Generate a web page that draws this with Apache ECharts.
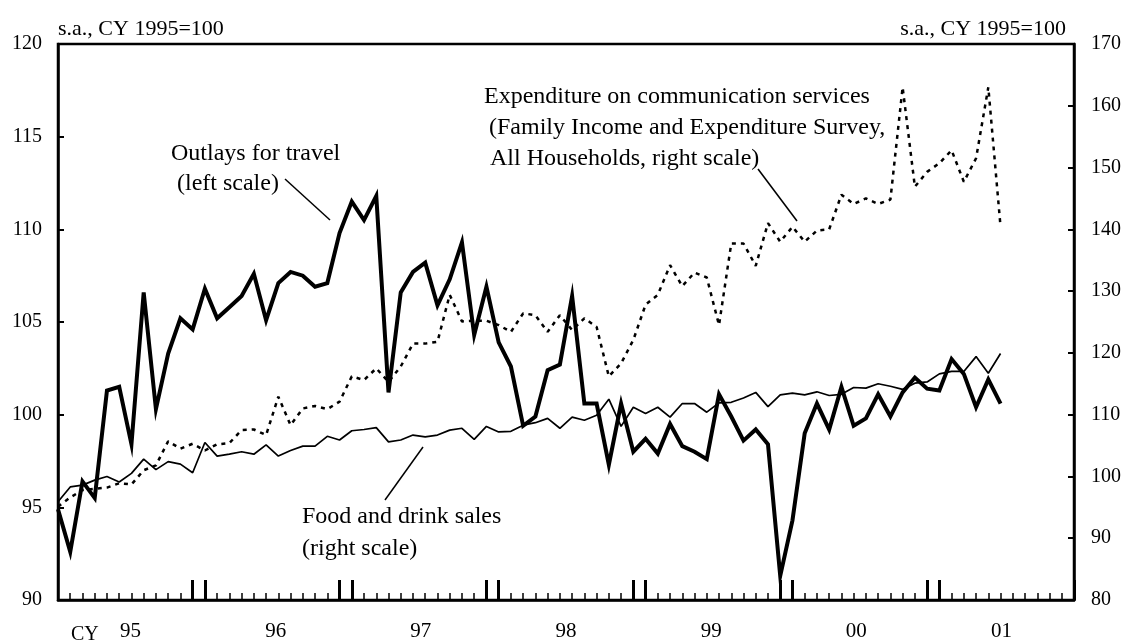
<!DOCTYPE html>
<html>
<head>
<meta charset="utf-8">
<script src="https://cdn.jsdelivr.net/npm/echarts@6/dist/echarts.min.js"></script>
<style>
html,body{margin:0;padding:0;background:#fff;}
#chart{width:1125px;height:642px;}
</style>
</head>
<body>
<div id="chart"></div>
<script>
// ---- data ----
const years = ['95', '96', '97', '98', '99', '00', '01'];
const leftTicks = [90, 95, 100, 105, 110, 115, 120];
const rightTicks = [80, 90, 100, 110, 120, 130, 140, 150, 160, 170];

// Outlays for travel (left scale), monthly Jan 1995 - Jun 2001
const outlays = [94.9, 92.6, 96.4, 95.5, 101.3, 101.5, 98.4, 106.6, 100.3, 103.3, 105.2, 104.6,
  106.8, 105.2, 105.8, 106.4, 107.6, 105.1, 107.1, 107.7, 107.5, 106.9, 107.1, 109.8,
  111.5, 110.5, 111.8, 101.2, 106.6, 107.7, 108.2, 105.9, 107.3, 109.3, 104.3, 106.9,
  103.9, 102.6, 99.4, 99.9, 102.4, 102.7, 106.4, 100.6, 100.6, 97.3, 100.6, 98.0,
  98.7, 97.9, 99.5, 98.3, 98.0, 97.6, 101.1, 99.9, 98.6, 99.2, 98.4, 91.3,
  94.3, 99.0, 100.6, 99.2, 101.5, 99.4, 99.8, 101.1, 99.9, 101.2, 102.0, 101.4,
  101.3, 103.0, 102.2, 100.4, 101.9, 100.6];

// Food and drink sales (right scale)
const food = [95.9, 98.3, 98.6, 99.4, 100.0, 99.1, 100.5, 102.8, 101.1, 102.4, 102.0, 100.6,
  105.5, 103.3, 103.6, 104.0, 103.6, 105.1, 103.3, 104.2, 104.9, 104.9, 106.5, 105.9,
  107.4, 107.6, 107.9, 105.6, 105.9, 106.7, 106.4, 106.7, 107.5, 107.8, 106.0, 108.1,
  107.2, 107.3, 108.3, 108.7, 109.4, 107.8, 109.6, 109.1, 109.9, 112.5, 108.1, 111.2,
  110.2, 111.2, 109.6, 111.8, 111.8, 110.4, 111.9, 112.0, 112.7, 113.6, 111.3, 113.2,
  113.5, 113.2, 113.7, 113.1, 113.3, 114.4, 114.3, 115.0, 114.6, 114.1, 115.1, 115.3,
  116.6, 117.0, 117.0, 119.4, 116.7, 119.9];

// Expenditure on communication services (right scale)
const comm = [95.1, 96.6, 97.8, 98.0, 98.2, 98.9, 98.7, 101.0, 101.8, 105.7, 104.5, 105.3,
  104.2, 105.2, 105.4, 107.5, 107.6, 106.7, 112.9, 108.3, 111.0, 111.4, 110.9, 112.1,
  116.2, 115.6, 117.5, 115.3, 117.8, 121.5, 121.5, 121.8, 129.4, 125.1, 125.2, 125.2,
  124.5, 123.4, 126.4, 126.1, 123.4, 126.1, 123.7, 125.6, 124.2, 116.2, 118.3, 122.1,
  127.8, 129.4, 134.2, 130.8, 133.0, 132.2, 124.5, 137.7, 137.7, 134.1, 141.0, 138.0,
  140.4, 138.0, 139.8, 140.0, 145.6, 144.1, 145.0, 144.1, 144.8, 163.0, 146.9, 149.3,
  150.7, 152.8, 147.7, 151.5, 163.0, 140.4];

// month categories Jan 95 .. Dec 01
const months = [];
years.forEach(y => { for (let m = 1; m <= 12; m++) months.push(y + '/' + m); });

// ---- chart ----
const FONT = '"Liberation Serif", "Times New Roman", serif';
const chart = echarts.init(document.getElementById('chart'), null, {renderer: 'canvas'});

const G = {left: 58, top: 44, width: 1016, height: 556};

const option = {
  animation: false,
  backgroundColor: '#fff',
  textStyle: {fontFamily: FONT, color: '#000'},
  grid: {left: G.left, top: G.top, width: G.width, height: G.height,
         show: true, borderColor: '#000', borderWidth: 2.5, backgroundColor: 'transparent'},
  xAxis: [
    { // monthly short ticks
      type: 'category', data: months, boundaryGap: false, position: 'bottom',
      axisLine: {show: true, lineStyle: {color: '#000', width: 2.5}},
      axisTick: {show: true, inside: true, length: 7, interval: 0, lineStyle: {color: '#000', width: 1.5}},
      axisLabel: {show: false}, splitLine: {show: false}
    },
    { // tall year-boundary ticks (Dec & Jan)
      type: 'category', data: months, boundaryGap: false, position: 'bottom',
      axisLine: {show: false},
      axisTick: {show: true, inside: true, length: 20,
                 interval: function (idx) { return idx % 12 === 11 || (idx % 12 === 0 && idx > 0); },
                 lineStyle: {color: '#000', width: 3}},
      axisLabel: {show: false}, splitLine: {show: false}
    },
    { // year labels
      type: 'category', data: years, boundaryGap: true, position: 'bottom',
      axisLine: {show: false}, axisTick: {show: false}, splitLine: {show: false},
      axisLabel: {show: true, interval: 0, margin: 21, fontSize: 21, fontFamily: FONT, color: '#000'}
    }
  ],
  yAxis: [
    {
      type: 'value', min: leftTicks[0], max: leftTicks[leftTicks.length - 1], interval: 5, position: 'left',
      name: 's.a., CY 1995=100', nameLocation: 'end', nameGap: 4,
      nameTextStyle: {fontSize: 22, fontFamily: FONT, color: '#000', align: 'left', verticalAlign: 'bottom'},
      axisLine: {show: true, lineStyle: {color: '#000', width: 2.5}},
      axisTick: {show: true, inside: true, length: 6, lineStyle: {color: '#000', width: 2}},
      axisLabel: {fontSize: 20, fontFamily: FONT, color: '#000', margin: 16},
      splitLine: {show: false}
    },
    {
      type: 'value', min: rightTicks[0], max: rightTicks[rightTicks.length - 1], interval: 10, position: 'right',
      name: 's.a., CY 1995=100', nameLocation: 'end', nameGap: 4,
      nameTextStyle: {fontSize: 22, fontFamily: FONT, color: '#000', align: 'right', verticalAlign: 'bottom', padding: [0, 8, 0, 0]},
      axisLine: {show: true, lineStyle: {color: '#000', width: 2.5}},
      axisTick: {show: true, inside: true, length: 6, lineStyle: {color: '#000', width: 2}},
      axisLabel: {fontSize: 20, fontFamily: FONT, color: '#000', margin: 17},
      splitLine: {show: false}
    }
  ],
  series: [
    {
      name: 'Expenditure on communication services', type: 'line', data: comm,
      xAxisIndex: 0, yAxisIndex: 1, symbol: 'none', smooth: false,
      lineStyle: {color: '#000', width: 2.5, type: [4, 5]}, z: 2
    },
    {
      name: 'Food and drink sales', type: 'line', data: food,
      xAxisIndex: 0, yAxisIndex: 1, symbol: 'none', smooth: false,
      lineStyle: {color: '#000', width: 1.7}, z: 3
    },
    {
      name: 'Outlays for travel', type: 'line', data: outlays,
      xAxisIndex: 0, yAxisIndex: 0, symbol: 'none', smooth: false,
      lineStyle: {color: '#000', width: 4, join: 'miter'}, z: 4
    }
  ],
  graphic: [
    {type: 'text', left: 71, top: 625, style: {text: 'CY', font: '20px ' + FONT, fill: '#000'}},
    // Outlays annotation
    {type: 'text', left: 171, top: 142, style: {text: 'Outlays for travel', font: '24px ' + FONT, fill: '#000'}},
    {type: 'text', left: 177, top: 172, style: {text: '(left scale)', font: '24px ' + FONT, fill: '#000'}},
    {type: 'line', shape: {x1: 285, y1: 179, x2: 330, y2: 220}, style: {stroke: '#000', lineWidth: 1.5}},
    // Communication annotation
    {type: 'text', left: 484, top: 85, style: {text: 'Expenditure on communication services', font: '24px ' + FONT, fill: '#000'}},
    {type: 'text', left: 489, top: 116, style: {text: '(Family Income and Expenditure Survey,', font: '24px ' + FONT, fill: '#000'}},
    {type: 'text', left: 490, top: 147, style: {text: 'All Households, right scale)', font: '24px ' + FONT, fill: '#000'}},
    {type: 'line', shape: {x1: 758, y1: 169, x2: 797, y2: 221}, style: {stroke: '#000', lineWidth: 1.5}},
    // Food annotation
    {type: 'text', left: 302, top: 505, style: {text: 'Food and drink sales', font: '24px ' + FONT, fill: '#000'}},
    {type: 'text', left: 302, top: 537, style: {text: '(right scale)', font: '24px ' + FONT, fill: '#000'}},
    {type: 'line', shape: {x1: 385, y1: 500, x2: 423, y2: 447}, style: {stroke: '#000', lineWidth: 1.5}}
  ]
};
chart.setOption(option);
</script>
</body>
</html>
